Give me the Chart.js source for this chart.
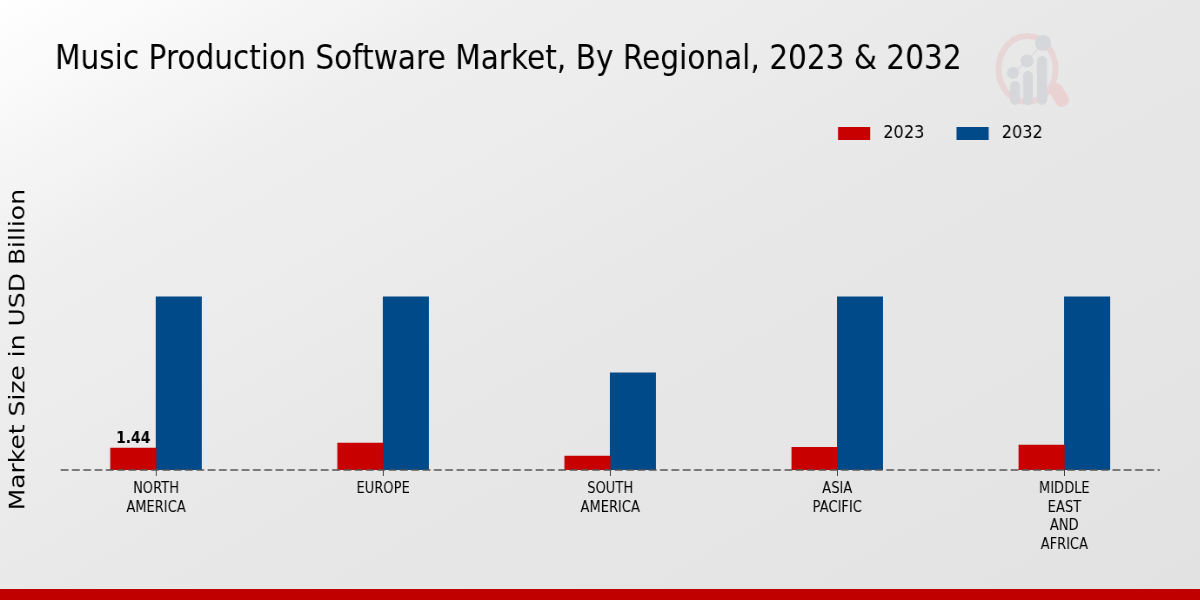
<!DOCTYPE html>
<html>
<head>
<meta charset="utf-8">
<script src="https://cdn.jsdelivr.net/npm/chart.js@4"></script>
<style>
  html, body { margin: 0; width: 1200px; height: 600px; overflow: hidden; }
  body { background: linear-gradient(150deg, #ffffff 0%, #efeff0 22%, #e8e8e9 50%, #e2e2e3 100%); position: relative; }
  #wrap { position: absolute; left: 0; top: 0; width: 1380px; height: 600px; transform: scaleX(0.87); transform-origin: 0 0; }
  #stripe { position: absolute; left: 0; right: 0; top: 589px; height: 11px; background: #c00000; }
</style>
</head>
<body>
<div id="wrap"><canvas id="myChart" width="1380" height="600"></canvas></div>
<div id="stripe"></div>
<script>
// the reference text is squeezed sideways, so the chart is laid out wide and scaled back
const squeeze = 0.87;

const categories = [['NORTH', 'AMERICA'], ['EUROPE'], ['SOUTH', 'AMERICA'], ['ASIA', 'PACIFIC'], ['MIDDLE', 'EAST', 'AND', 'AFRICA']];
const values2023 = [1.44, 1.77, 0.92, 1.5, 1.64];
const values2032 = [11.4, 11.4, 6.4, 11.4, 11.4];
const labelled2023 = [1.44, null, null, null, null];

function toPoints(values) {
  return values.map(function (v, i) { return { x: i, y: v }; });
}

// title and legend sit at fixed spots, not where the layout stacks them
const placeBoxes = {
  id: 'placeBoxes',
  afterLayout(chart) {
    const title = chart.titleBlock;
    const titleH = title.bottom - title.top;
    title.left = 55 / squeeze;
    title.right = 1300;
    title.top = 40;
    title.bottom = 40 + titleH;

    const legend = chart.legend;
    const legendH = legend.bottom - legend.top;
    legend.left = 838 / squeeze - legend.options.labels.padding;
    legend.right = legend.left + legend.width;
    legend.top = 120 - legendH / 2;
    legend.bottom = legend.top + legendH;
  }
};

// faint logo behind the legend
const watermark = {
  id: 'watermark',
  beforeDraw(chart) {
    const ctx = chart.ctx;
    ctx.save();
    ctx.scale(1 / squeeze, 1);
    ctx.strokeStyle = '#e8d6d6';
    ctx.lineWidth = 6;
    ctx.beginPath();
    ctx.ellipse(1027, 69, 28.5, 33, 0, 0, Math.PI * 2);
    ctx.stroke();
    ctx.strokeStyle = '#ebd2d2';
    ctx.lineWidth = 14;
    ctx.lineCap = 'round';
    ctx.beginPath();
    ctx.moveTo(1056, 90);
    ctx.lineTo(1062, 100);
    ctx.stroke();
    ctx.strokeStyle = '#d5d7da';
    ctx.lineWidth = 1;
    ctx.beginPath();
    ctx.moveTo(1013, 73);
    ctx.lineTo(1027, 61);
    ctx.lineTo(1043, 43);
    ctx.stroke();
    ctx.fillStyle = '#d5d7da';
    [[1015, 81, 1013, 73, 6], [1028, 71, 1027, 61, 6.5], [1042, 56, 1043, 43, 8]].forEach(function (b) {
      ctx.beginPath();
      ctx.roundRect(b[0] - 5, b[1], 10, 105 - b[1], 5);
      ctx.fill();
      ctx.beginPath();
      ctx.arc(b[2], b[3], b[4], 0, Math.PI * 2);
      ctx.fill();
    });
    ctx.restore();
  }
};

// dashed baseline and the one value label
const barLabels = {
  id: 'barLabels',
  afterDatasetsDraw(chart) {
    const ctx = chart.ctx;
    const x = chart.scales.x;
    const meta = chart.getDatasetMeta(0);
    ctx.save();
    ctx.strokeStyle = '#555';
    ctx.lineWidth = 1.3;
    ctx.setLineDash([9, 4]);
    ctx.beginPath();
    ctx.moveTo(x.left, x.top);
    ctx.lineTo(x.right, x.top);
    ctx.stroke();
    ctx.font = 'bold 16px "DejaVu Sans"';
    ctx.fillStyle = '#000';
    ctx.textAlign = 'center';
    ctx.textBaseline = 'bottom';
    labelled2023.forEach(function (v, i) {
      if (v === null) return;
      ctx.fillText(v.toFixed(2), meta.data[i].x, meta.data[i].y - 1);
    });
    ctx.restore();
  }
};

const ctx = document.getElementById('myChart').getContext('2d');
new Chart(ctx, {
  type: 'bar',
  data: {
    datasets: [
      { label: '2023', data: toPoints(values2023), backgroundColor: '#c80000', barThickness: 45.5 / squeeze },
      { label: '2032', data: toPoints(values2032), backgroundColor: '#004a8a', barThickness: 45.5 / squeeze }
    ]
  },
  plugins: [placeBoxes, watermark, barLabels],
  options: {
    responsive: false,
    animation: false,
    layout: { padding: { top: 123, right: 47 } },
    scales: {
      x: {
        type: 'linear',
        offset: false,
        min: -0.42,
        max: 4.42,
        afterBuildTicks(scale) {
          scale.ticks = categories.map(function (c, i) { return { value: i }; });
        },
        afterFit(scale) { scale.height = 130; },
        grid: { offset: false, drawOnChartArea: false, tickLength: 6, tickColor: '#333' },
        border: { display: false },
        ticks: {
          autoSkip: false,
          maxRotation: 0,
          padding: 4,
          color: '#000',
          font: { family: 'DejaVu Sans', size: 15, lineHeight: 1.24 },
          callback(value) { return categories[value]; }
        }
      },
      y: {
        min: 0,
        max: 15.85,
        afterFit(scale) { scale.width = 60.6 / squeeze; },
        grid: { display: false },
        border: { display: false },
        ticks: { display: false },
        title: {
          display: true,
          text: 'Market Size in USD Billion',
          color: '#000',
          font: { family: 'DejaVu Sans', size: 25 },
          padding: { top: 6, bottom: 0 }
        }
      }
    },
    plugins: {
      title: {
        display: true,
        align: 'start',
        text: 'Music Production Software Market, By Regional, 2023 & 2032',
        color: '#000',
        font: { family: 'DejaVu Sans', size: 34, weight: 'normal' },
        padding: 0
      },
      legend: {
        align: 'start',
        labels: {
          boxWidth: 37,
          boxHeight: 13,
          padding: 37,
          color: '#000',
          font: { family: 'DejaVu Sans', size: 18.5 },
          generateLabels(chart) {
            return Chart.defaults.plugins.legend.labels.generateLabels(chart).map(function (item) {
              item.text = ' ' + item.text;
              item.lineWidth = 0;
              return item;
            });
          }
        }
      },
      tooltip: { enabled: false }
    }
  }
});
</script>
</body>
</html>
